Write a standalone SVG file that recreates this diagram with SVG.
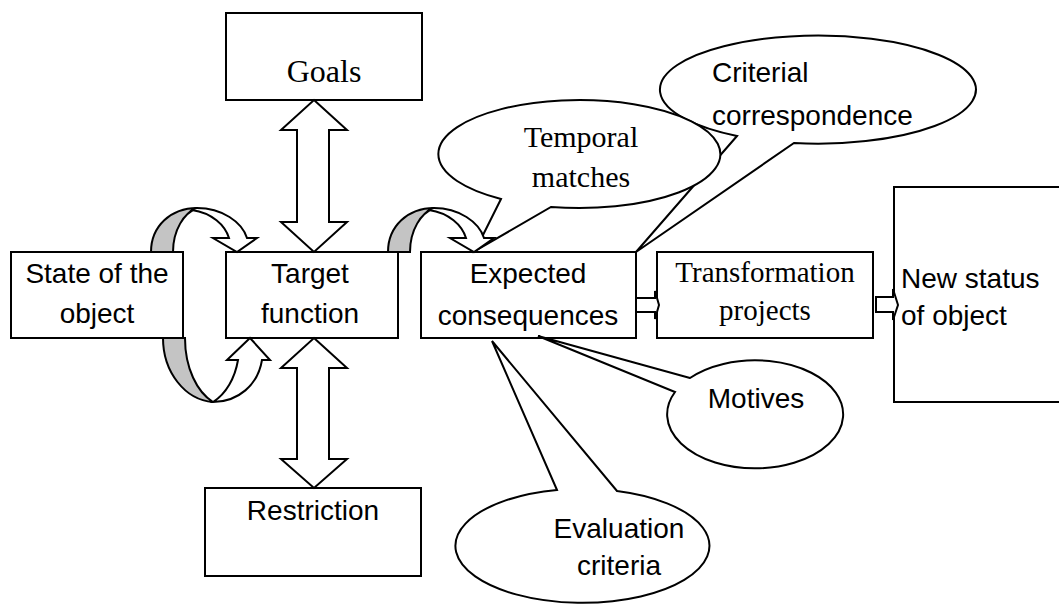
<svg xmlns="http://www.w3.org/2000/svg" width="1059" height="604" viewBox="0 0 1059 604">
<style>
.box{fill:#fff;stroke:#000;stroke-width:2}
.shape{fill:#fff;stroke:#000;stroke-width:2;stroke-linejoin:miter}
.grey{fill:#c4c4c4;stroke:#000;stroke-width:2}
.sans{font-family:"Liberation Sans",Arial,sans-serif;font-size:28px;fill:#000}
.serif{font-family:"Liberation Serif","Times New Roman",serif;font-size:29px;fill:#000}
.mid{text-anchor:middle}
</style>
<defs>
<g id="curvedDown">
<path class="grey" d="M151,252 C151,226 171,208 197,208 C184,213 173,230 173,252 Z"/>
<path class="shape" d="M197,208 C222,208 242,222 247,238 L257,238 L237,252 L213,238 L229,238 C225,225 212,213 192,210 C194,208.5 195.5,208 197,208 Z"/>
</g>
</defs>
<rect width="1059" height="604" fill="#fff"/>

<g id="goals">
<rect class="box" x="226" y="13" width="196" height="87"/>
<text class="serif mid" x="324" y="82" style="font-size:32px">Goals</text>
</g>
<g id="state">
<rect class="box" x="11" y="252" width="172" height="86"/>
<text class="sans mid" x="97" y="283">State of the</text>
<text class="sans mid" x="97" y="323">object</text>
</g>
<g id="target">
<rect class="box" x="226" y="252" width="172" height="86"/>
<text class="sans mid" x="310" y="283">Target</text>
<text class="sans mid" x="310" y="323">function</text>
</g>
<g id="expected">
<rect class="box" x="421" y="252" width="215" height="86"/>
<text class="sans mid" x="528" y="283">Expected</text>
<text class="sans mid" x="528" y="325">consequences</text>
</g>
<g id="transformation">
<rect class="box" x="657" y="252" width="216" height="86"/>
<text class="serif mid" x="765" y="282">Transformation</text>
<text class="serif mid" x="765" y="320">projects</text>
</g>
<g id="newstatus">
<rect class="box" x="894" y="187" width="172" height="215"/>
<text class="sans" x="901" y="288">New status</text>
<text class="sans" x="901" y="325">of object</text>
</g>
<g id="restriction">
<rect class="box" x="205" y="488" width="216" height="88"/>
<text class="sans mid" x="313" y="520">Restriction</text>
</g>

<g id="connectors">
<path class="shape" d="M314,100 L347,130 L329,130 L329,222 L347,222 L314,252 L281,222 L297,222 L297,130 L281,130 Z"/>
<path class="shape" d="M314,338 L347,368 L329,368 L329,459 L347,459 L314,488 L281,459 L297,459 L297,368 L281,368 Z"/>
<use href="#curvedDown"/>
<g>
<path class="grey" d="M163,338 C163,372 185,400 213,402 C197,392 185,368 185,338 Z"/>
<path class="shape" d="M213,402 C238,402 258,385 262,360 L270,360 L250,338 L227,360 L238,360 C235,378 226,394 213,402 Z"/>
</g>
<path class="shape" d="M636,298 L655,298 L655,291 L659,305 L655,319 L655,312 L636,312 Z"/>
<path class="shape" d="M876,297 L893,297 L893,289 L898,305 L893,320 L893,312 L876,312 Z"/>
</g>

<g id="criterial">
<path class="shape" d="M737,136 L636,252 L794,143 A158,54 0 1 0 737,136 Z"/>
<text class="sans" x="712" y="82">Criterial</text>
<text class="sans" x="712" y="125">correspondence</text>
</g>
<g id="temporal">
<path class="shape" d="M501,199 L475,251 L551,207 A141,54 0 1 0 501,199 Z"/>
<text class="serif mid" x="581" y="147" style="font-size:30px">Temporal</text>
<text class="serif mid" x="581" y="187" style="font-size:30px">matches</text>
</g>
<g id="connectors-curved">
<use href="#curvedDown" transform="translate(237,0)"/>
</g>
<g id="motives">
<path class="shape" d="M690,378 L538,336 L675,392 A88,54 0 1 0 690,378 Z"/>
<text class="sans mid" x="756" y="408">Motives</text>
</g>
<g id="evaluation">
<path class="shape" d="M557,490 L492,341 L617,491 A127,57 0 1 1 557,490 Z"/>
<text class="sans mid" x="619" y="538">Evaluation</text>
<text class="sans mid" x="619" y="575">criteria</text>
</g>
</svg>
